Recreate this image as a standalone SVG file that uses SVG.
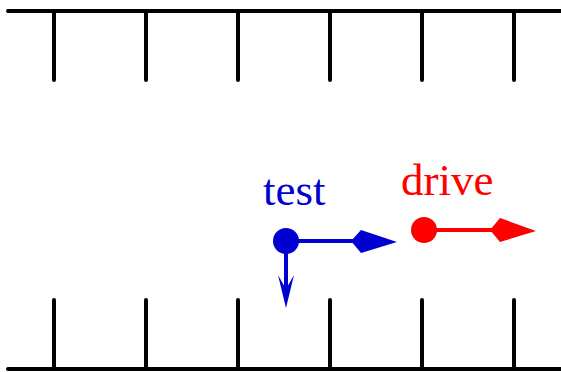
<svg xmlns="http://www.w3.org/2000/svg" width="561" height="372" viewBox="0 0 561 372">
<style>
.wall{stroke:#000;stroke-width:4;fill:none;stroke-linecap:round}
.lbl{font-family:"Liberation Serif","Times New Roman",serif;font-size:45px}
</style>
<rect width="561" height="372" fill="#fff"/>
<g id="walls" class="wall">
<path d="M8 11H561M54 11V80M146 11V80M238 11V80M330 11V80M422 11V80M514 11V80"/>
<path d="M8 369H561M54 300V369M146 300V369M238 300V369M330 300V369M422 300V369M514 300V369"/>
</g>
<g id="test">
<circle cx="286" cy="241" r="13" fill="#0000d0"/>
<text class="lbl" x="263" y="205" fill="#0000d0">test</text>
</g>
<g id="drive">
<circle cx="424" cy="230" r="13" fill="#f00"/>
<text class="lbl" x="401" y="195" fill="#f00">drive</text>
</g>
<g id="connectors">
<line x1="286" y1="241" x2="360" y2="241" stroke="#0000d0" stroke-width="4"/>
<polygon points="351,241 361,230 397,242 361,253" fill="#0000d0"/>
<line x1="286" y1="241" x2="286" y2="295" stroke="#0000d0" stroke-width="4"/>
<polygon points="278,275 286,289 294,275 286,308" fill="#0000d0"/>
<line x1="424" y1="230" x2="500" y2="230" stroke="#f00" stroke-width="4"/>
<polygon points="490,230 500,218 536,231 500,242" fill="#f00"/>
</g>
</svg>
